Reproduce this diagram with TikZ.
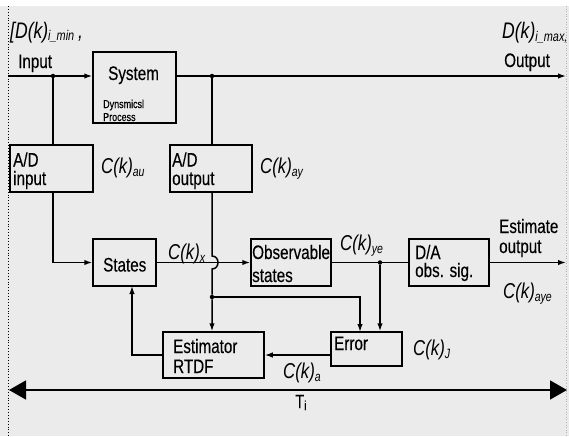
\documentclass[tikz,border=0pt]{standalone}
\usepackage{fontspec}
\setmainfont{Liberation Sans}[FakeStretch=0.78,UprightFeatures={FakeBold=0.3}]
\usetikzlibrary{arrows.meta}
\definecolor{bg}{HTML}{EBEBEB}
\newcommand{\cklab}[2]{{\fontsize{21.5}{22}\selectfont\itshape #1}\raisebox{-3pt}{\fontsize{13.5}{14}\selectfont\itshape #2}}
\begin{document}
\begin{tikzpicture}[x=1pt,y=-1pt,
  blk/.style={draw,line width=1.5pt,inner sep=0pt},
  ln/.style={line width=1.5pt},
  arr/.style={ln,-{Latex[length=8pt,width=5.5pt]}},
  txt/.style={inner sep=0pt,anchor=base west,font=\fontsize{19.5}{21}\selectfont},
  small/.style={inner sep=0pt,anchor=base west,font=\fontsize{11.5}{12}\selectfont},
  lab/.style={inner sep=0pt,anchor=base west},
  jdot/.style={circle,fill,inner sep=0pt,minimum size=4.5pt},
]
\fill[white] (0,0) rectangle (569,436);
\fill[bg] (0,6) rectangle (569,436);
\useasboundingbox (0,0) rectangle (569,436);
\draw[dotted,line width=0.9pt] (8,6) -- (8,436);
\draw[dotted,line width=0.6pt,gray!60] (566,6) -- (566,436);

% blocks
\node[blk,minimum width=83pt,minimum height=71pt] (sys) at (134.5,87.5) {};
\node[blk,minimum width=83pt,minimum height=47pt] (adi) at (51.5,168.5) {};
\node[blk,minimum width=82pt,minimum height=47pt] (ado) at (211,168.5) {};
\node[blk,minimum width=63pt,minimum height=47pt] (st) at (124.5,262.5) {};
\node[blk,minimum width=80pt,minimum height=47pt] (obs) at (291,262.5) {};
\node[blk,minimum width=80pt,minimum height=47pt] (da) at (449,262.5) {};
\node[blk,minimum width=101pt,minimum height=46pt] (est) at (213.5,355) {};
\node[blk,minimum width=71pt,minimum height=34pt] (err) at (366.5,349) {};

% block texts
\node[txt] (tsys) at (108,80) {System};
\node[small] (tdyn) at (103,108) {Dynsmicsl};
\node[small] (tpro) at (103,121) {Process};
\node[txt] (tadi1) at (13,166.5) {A/D};
\node[txt] (tadi2) at (13,185) {input};
\node[txt] (tado1) at (172,166.5) {A/D};
\node[txt] (tado2) at (172,185) {output};
\node[txt] (tst) at (103,271.5) {States};
\node[txt] (tobs1) at (252,259) {Observable};
\node[txt] (tobs2) at (252,282) {states};
\node[txt] (tda1) at (415,259) {D/A};
\node[txt] (tda2) at (415,277) {obs. sig.};
\node[txt] (test1) at (173,353) {Estimator};
\node[txt] (test2) at (173,373) {RTDF};
\node[txt] (terr) at (334,350) {Error};

% free labels
\node[txt] (tin) at (18,68) {Input};
\node[txt] (tout) at (504,67) {Output};
\node[txt] (tes1) at (499,233) {Estimate};
\node[txt] (tes2) at (499,253) {output};
\node[lab] (dmin) at (10,38) {{\fontsize{22.5}{23}\selectfont\itshape [D(k)}\raisebox{-2pt}{\fontsize{14}{14}\selectfont\itshape i\_min}{\fontsize{22.5}{23}\selectfont\itshape\,,}};
\node[lab] (dmax) at (502,39) {{\fontsize{22.5}{23}\selectfont\itshape D(k)}\raisebox{-2pt}{\fontsize{14}{14}\selectfont\itshape i\_max,}};
\node[lab] (cau) at (101,173) {\cklab{C(k)}{au}};
\node[lab] (cay) at (260,173) {\cklab{C(k)}{ay}};
\node[lab] (cx) at (168,259) {\cklab{C(k)}{x}};
\node[lab] (cye) at (340,250) {\cklab{C(k)}{ye}};
\node[lab] (caye) at (503,298) {\cklab{C(k)}{aye}};
\node[lab] (cj) at (413,355) {\cklab{C(k)}{J}};
\node[lab] (ca) at (283,378) {\cklab{C(k)}{a}};
\node[lab] (ti) at (295,408) {{\fontsize{19}{20}\selectfont T}\raisebox{-2pt}{\fontsize{13}{13}\selectfont i}};

% connectors
\coordinate (in0) at (8,76);
\coordinate (out1) at (566,76);
\node[jdot] (j1) at (53,76) {};
\node[jdot] (j2) at (212,76) {};
\draw[arr] (in0) -- (sys.west |- in0);
\draw[arr] (sys.east |- out1) -- (out1);
\draw[ln] (j1) -- (j1 |- adi.north);
\draw[ln] (j2) -- (j2 |- ado.north);
\draw[arr] (j1 |- adi.south) |- (st.west);
\draw[arr] (st.east) -- (obs.west);
\node[jdot] (j3) at (212,297) {};
\coordinate (b1) at (212,256);
\coordinate (b2) at (212,269);
\draw[arr] (j2 |- ado.south) -- (b1) .. controls (220,256) and (220,269) .. (b2) -- (j3) -- (j3 |- est.north);
\coordinate (e1) at (360,332);
\draw[arr] (j3) -| (e1);
\draw[ln] (obs.east) -- (da.west);
\node[jdot] (j4) at (380,262.5) {};
\draw[arr] (j4) -- (j4 |- err.north);
\coordinate (out2) at (566,262.5);
\draw[arr] (da.east) -- (out2);
\coordinate (ew) at (331,355);
\draw[arr] (ew) -- (est.east |- ew);
\coordinate (sb) at (132,286);
\draw[arr] (est.west) -| (sb);
\coordinate (tl) at (9,390);
\coordinate (tr) at (567,390);
\draw[line width=1.5pt,{Triangle[length=17pt,width=19pt]}-{Triangle[length=17pt,width=19pt]}] (tl) -- (tr);
\end{tikzpicture}
\end{document}
